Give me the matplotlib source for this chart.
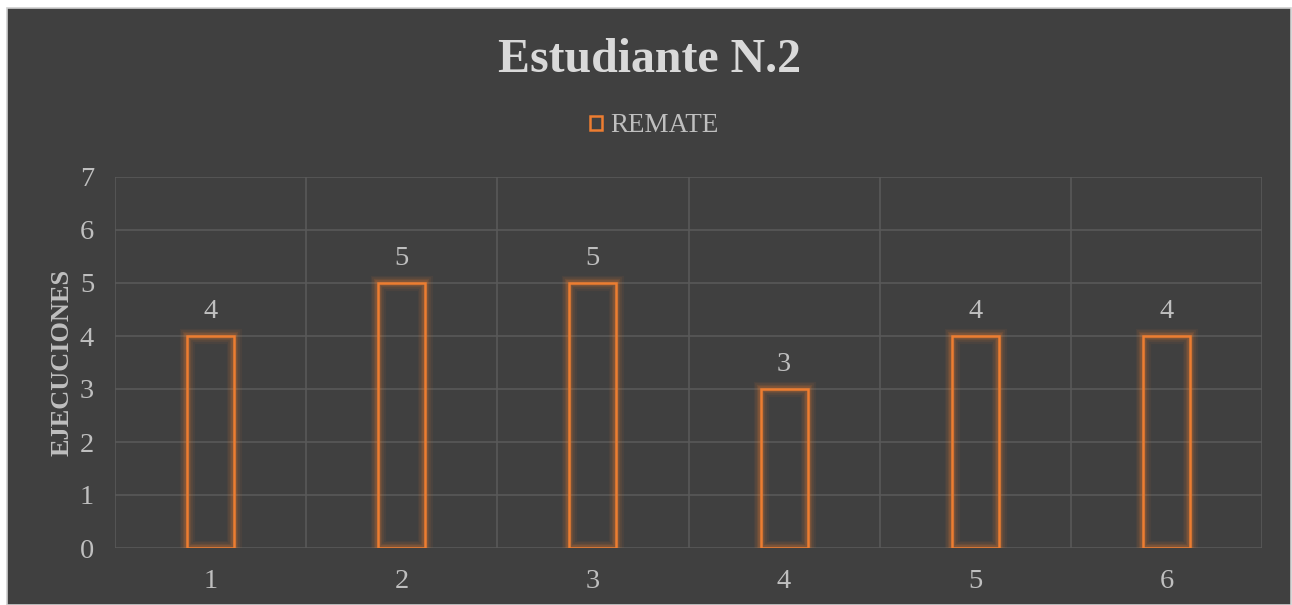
import matplotlib
matplotlib.use("Agg")
import matplotlib.pyplot as plt
from matplotlib.patches import Rectangle, Patch

categories = ["1", "2", "3", "4", "5", "6"]
values = [4, 5, 5, 3, 4, 4]
series_name = "REMATE"
title = "Estudiante N.2"
ylabel = "EJECUCIONES"
yticks = [0, 1, 2, 3, 4, 5, 6, 7]

BG = "#404040"
ORANGE = "#ED7D31"
TXT = "#BFBFBF"
GRID = "#595959"
SERIF = ["Liberation Serif", "DejaVu Serif"]

W, H = 1292, 605
fig = plt.figure(figsize=(W / 100, H / 100), dpi=100, facecolor="white")
fig.patches.append(Rectangle((6.5 / W, 0), (1291 - 6.5) / W, (H - 7.5) / H,
                             transform=fig.transFigure, facecolor=BG,
                             edgecolor="#D0D0D0", linewidth=1.2, zorder=-5))

ax = fig.add_axes([115 / W, (H - 548) / H, (1262 - 115) / W, (548 - 177) / H])
ax.set_zorder(2)
ax.patch.set_alpha(0)

x = list(range(len(categories)))
bw = 0.245
# glow layers
for lw, a in [(11, 0.06), (8.5, 0.08), (6, 0.12), (4, 0.18)]:
    ax.bar(x, values, width=bw, facecolor="none", edgecolor=ORANGE,
           linewidth=lw, alpha=a, zorder=2)
ax.bar(x, values, width=bw, facecolor="none", edgecolor=ORANGE,
       linewidth=1.8, zorder=3)

for xi, v in zip(x, values):
    ax.annotate(str(v), (xi, v), xytext=(0, 8.5), textcoords="offset points",
                ha="center", va="bottom", color=TXT, fontsize=20.5,
                family=SERIF)

ax.set_xlim(-0.5, len(categories) - 0.5)
ax.set_ylim(0, 7)
ax.set_yticks(yticks)
ax.set_yticklabels([str(t) for t in yticks], family=SERIF, fontsize=20.5, color=TXT)
ax.set_xticks(x)
ax.set_xticklabels(categories, family=SERIF, fontsize=20.5, color=TXT)
ax.set_xticks([i - 0.5 for i in range(len(categories) + 1)], minor=True)
ax.tick_params(axis="both", which="both", length=0)
ax.tick_params(axis="y", pad=15)
ax.tick_params(axis="x", pad=15)
ax.grid(axis="y", which="major", color=GRID, linewidth=1.2, zorder=1)
ax.grid(axis="x", which="minor", color=GRID, linewidth=1.2, zorder=1)
ax.set_axisbelow(True)
for s in ax.spines.values():
    s.set_visible(False)

ax.set_ylabel(ylabel, family=SERIF, fontsize=19, fontweight="bold", color=TXT,
              va="center")
ax.yaxis.set_label_coords(-53 / (1262 - 115), 0.5)

fig.text(649 / W, 1 - 60 / H, title, ha="center", va="center", family=SERIF,
         fontsize=34.5, fontweight="bold", color="#D9D9D9")

handle = Patch(facecolor="none", edgecolor=ORANGE, linewidth=1.8)
leg = fig.legend([handle], [series_name], loc="center", bbox_to_anchor=(654 / W, 1 - 126 / H),
                 frameon=False, prop={"family": SERIF, "size": 19.5},
                 handlelength=0.45, handleheight=0.45, handletextpad=0.3,
                 labelcolor=TXT)

fig.savefig("out.png", dpi=100, facecolor="white")
